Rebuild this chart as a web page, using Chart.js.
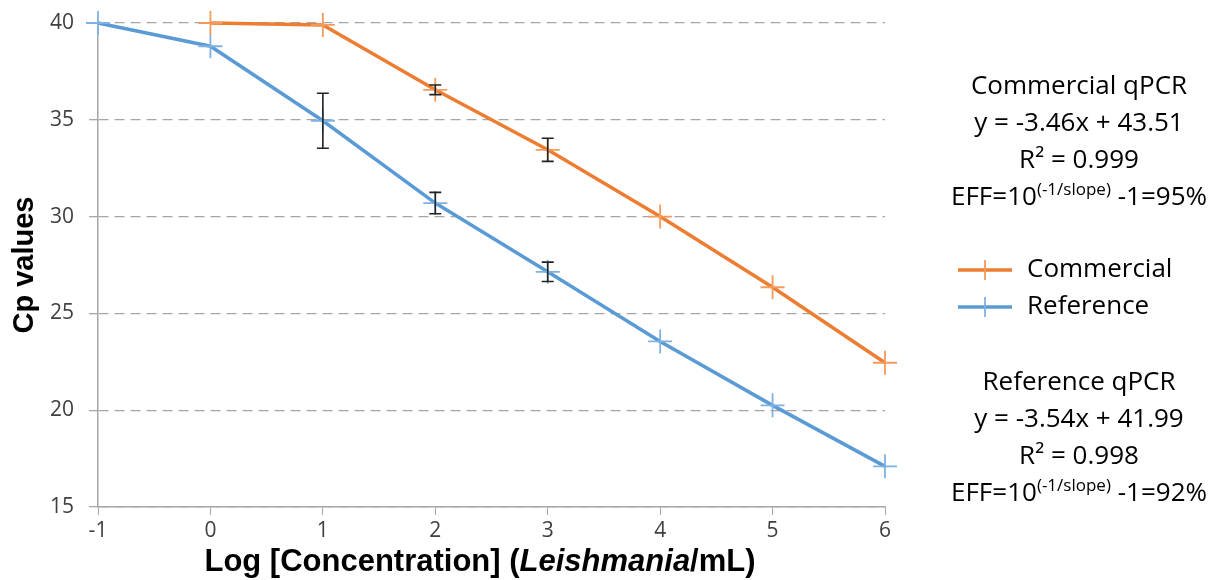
<!DOCTYPE html>
<html>
<head>
<meta charset="utf-8">
<script src="https://cdn.jsdelivr.net/npm/chart.js@4/dist/chart.umd.min.js"></script>
<style>
  body { margin: 0; background: #fff; }
  #wrap { position: relative; width: 1225px; height: 580px; }
  #chart { position: absolute; left: 0; top: 0; }
  .note { position: absolute; left: 929px; width: 300px; text-align: center;
          font-family: "Open Sans", sans-serif; font-size: 26px; color: #000; line-height: 37px; }
  .note sup { font-size: 17px; vertical-align: 10px; line-height: 0; }
</style>
</head>
<body>
<div id="wrap">
  <canvas id="chart" width="1225" height="580"></canvas>
  <div class="note" style="top:66px">Commercial qPCR<br>y = -3.46x + 43.51<br>R² = 0.999<br>EFF=10<sup>(-1/slope)</sup> -1=95%</div>
  <div class="note" style="top:362px">Reference qPCR<br>y = -3.54x + 41.99<br>R² = 0.998<br>EFF=10<sup>(-1/slope)</sup> -1=92%</div>
</div>
<script>
// values
var commercialX = [0, 1, 2, 3, 4, 5, 6];
var commercialY = [40.0, 39.9, 36.55, 33.45, 30.0, 26.35, 22.45];
var commercialErr = [0, 0, 0.25, 0.6, 0, 0, 0];

var referenceX = [-1, 0, 1, 2, 3, 4, 5, 6];
var referenceY = [40.0, 38.8, 34.95, 30.7, 27.15, 23.55, 20.25, 17.1];
var referenceErr = [0, 0, 1.42, 0.55, 0.5, 0, 0, 0];

var yTicks = [15, 20, 25, 30, 35, 40];
var xTicks = [-1, 0, 1, 2, 3, 4, 5, 6];

var orange = '#ED7D31';
var blue = '#5B9BD5';
var titleFont = '"Liberation Sans", Arial, sans-serif';

function toPoints(xs, ys) {
    return xs.map(function(x, i) { return {x: x, y: ys[i]}; });
}

// error bars drawn through the scales
var errorBars = {
    id: 'errorBars',
    afterDatasetsDraw: function(chart) {
        var ctx = chart.ctx;
        var xs = chart.scales.x, ys = chart.scales.y;
        chart.data.datasets.forEach(function(ds) {
            ctx.save();
            ctx.strokeStyle = '#222';
            ctx.lineWidth = 1.6;
            ds.data.forEach(function(p, i) {
                var e = ds.errors[i];
                if (!e) return;
                var px = xs.getPixelForValue(p.x);
                var top = ys.getPixelForValue(p.y + e);
                var bot = ys.getPixelForValue(p.y - e);
                ctx.beginPath();
                ctx.moveTo(px, top); ctx.lineTo(px, bot);
                ctx.moveTo(px - 6, top); ctx.lineTo(px + 6, top);
                ctx.moveTo(px - 6, bot); ctx.lineTo(px + 6, bot);
                ctx.stroke();
            });
            ctx.restore();
        });
    }
};

// legend and x title with italic part
var extras = {
    id: 'extras',
    afterDraw: function(chart) {
        var ctx = chart.ctx;
        ctx.save();
        chart.data.datasets.forEach(function(ds, i) {
            var y = 270 + i * 37;
            ctx.strokeStyle = ds.borderColor;
            ctx.lineWidth = 3.5;
            ctx.beginPath(); ctx.moveTo(958, y); ctx.lineTo(1012, y); ctx.stroke();
            ctx.strokeStyle = ds.pointBorderColor;
            ctx.lineWidth = 1.8;
            ctx.beginPath(); ctx.moveTo(985, y - 10); ctx.lineTo(985, y + 10); ctx.stroke();
            ctx.fillStyle = '#000';
            ctx.font = '26px "Open Sans", sans-serif';
            ctx.textBaseline = 'middle';
            ctx.fillText(ds.label, 1027, y);
        });

        var parts = [
            ['Log [Concentration] (', 'bold 31px ' + titleFont],
            ['Leishmania', 'italic bold 31px ' + titleFont],
            ['/mL)', 'bold 31px ' + titleFont]
        ];
        var total = 0;
        parts.forEach(function(p) { ctx.font = p[1]; total += ctx.measureText(p[0]).width; });
        var x = 480 - total / 2;
        ctx.fillStyle = '#000';
        ctx.textBaseline = 'middle';
        parts.forEach(function(p) {
            ctx.font = p[1];
            ctx.fillText(p[0], x, 562);
            x += ctx.measureText(p[0]).width;
        });
        ctx.restore();
    }
};

var ctx = document.getElementById('chart').getContext('2d');
var config = {
    type: 'line',
    data: {
        datasets: [{
            label: 'Commercial',
            data: toPoints(commercialX, commercialY),
            errors: commercialErr,
            borderColor: orange,
            borderWidth: 3.5,
            pointStyle: 'cross',
            pointRadius: 12,
            pointBorderWidth: 1.8,
            pointBorderColor: '#F39A5C',
            pointBackgroundColor: orange,
            tension: 0,
            clip: false
        }, {
            label: 'Reference',
            data: toPoints(referenceX, referenceY),
            errors: referenceErr,
            borderColor: blue,
            borderWidth: 3.5,
            pointStyle: 'cross',
            pointRadius: 12,
            pointBorderWidth: 1.8,
            pointBorderColor: '#7FB2E2',
            pointBackgroundColor: blue,
            tension: 0,
            clip: false
        }]
    },
    options: {
        responsive: false,
        animation: false,
        layout: { autoPadding: false, padding: { top: 23, right: 340, left: 0, bottom: 0 } },
        plugins: { legend: { display: false }, tooltip: { enabled: false } },
        scales: {
            x: {
                type: 'linear',
                min: -1, max: 6,
                afterBuildTicks: function(s) { s.ticks = xTicks.map(function(v) { return {value: v}; }); },
                afterFit: function(s) { s.height = 73; s.paddingLeft = 0; s.paddingRight = 0; },
                grid: { drawOnChartArea: false, drawTicks: true, tickLength: 8, color: '#a6a6a6' },
                border: { color: '#a6a6a6', width: 1.5 },
                ticks: { color: '#404040', padding: 3, font: { family: '"Open Sans", sans-serif', size: 21 } }
            },
            y: {
                min: 15, max: 40,
                afterBuildTicks: function(s) { s.ticks = yTicks.map(function(v) { return {value: v}; }); },
                afterFit: function(s) { s.width = 98; s.paddingTop = 0; s.paddingBottom = 0; },
                grid: { color: '#a6a6a6', lineWidth: 1.3, tickLength: 9, tickColor: '#a6a6a6' },
                border: { color: '#a6a6a6', width: 1.5, dash: [10, 6] },
                ticks: { color: '#404040', padding: 15, font: { family: '"Open Sans", sans-serif', size: 21 } },
                title: {
                    display: true,
                    text: 'Cp values',
                    color: '#000',
                    padding: { top: 8, bottom: 0 },
                    font: { family: titleFont, size: 29, weight: 'bold' }
                }
            }
        }
    },
    plugins: [errorBars, extras]
};
var chart = new Chart(ctx, config);
</script>
</body>
</html>
